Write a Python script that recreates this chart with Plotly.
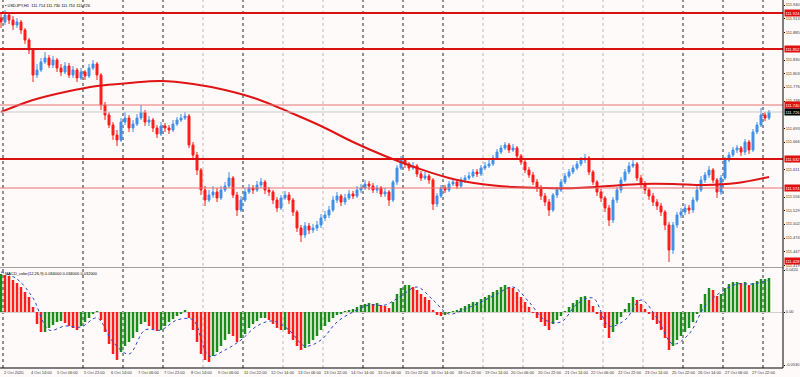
import plotly.graph_objects as go

# ---------------- data ----------------
symbol_title = "USDJPY,H1  111.714 111.730 111.710 111.726"
macd_title = "MACD_color(12,26,9) 0.034000 0.034000 0.032000"

first_open = 111.914
close = [111.906, 111.920, 111.910, 111.900, 111.906, 111.890, 111.870, 111.850, 111.800, 111.810,
         111.826, 111.834, 111.820, 111.830, 111.814, 111.806, 111.818, 111.800, 111.810, 111.794,
         111.806, 111.798, 111.814, 111.822, 111.800, 111.740, 111.720, 111.700, 111.680, 111.670,
         111.706, 111.714, 111.694, 111.702, 111.714, 111.726, 111.706, 111.710, 111.694, 111.682,
         111.698, 111.694, 111.690, 111.702, 111.710, 111.714, 111.718, 111.660, 111.640, 111.610,
         111.570, 111.550, 111.560, 111.566, 111.554, 111.570, 111.578, 111.594, 111.560, 111.530,
         111.550, 111.566, 111.574, 111.570, 111.580, 111.586, 111.570, 111.566, 111.550, 111.534,
         111.554, 111.560, 111.550, 111.526, 111.494, 111.480, 111.498, 111.490, 111.494, 111.500,
         111.514, 111.520, 111.530, 111.550, 111.558, 111.546, 111.554, 111.562, 111.558, 111.570,
         111.574, 111.582, 111.578, 111.570, 111.574, 111.562, 111.566, 111.550, 111.586, 111.614,
         111.630, 111.622, 111.614, 111.618, 111.602, 111.594, 111.598, 111.590, 111.542, 111.558,
         111.574, 111.570, 111.582, 111.586, 111.578, 111.590, 111.594, 111.598, 111.606, 111.602,
         111.614, 111.618, 111.622, 111.634, 111.646, 111.654, 111.660, 111.650, 111.654, 111.638,
         111.626, 111.610, 111.600, 111.586, 111.574, 111.558, 111.546, 111.530, 111.560, 111.570,
         111.586, 111.598, 111.606, 111.614, 111.622, 111.630, 111.634, 111.606, 111.586, 111.566,
         111.554, 111.534, 111.510, 111.550, 111.570, 111.590, 111.606, 111.618, 111.622, 111.594,
         111.582, 111.570, 111.558, 111.546, 111.538, 111.526, 111.500, 111.450, 111.500, 111.520,
         111.526, 111.534, 111.530, 111.550, 111.570, 111.590, 111.600, 111.610, 111.590, 111.566,
         111.594, 111.630, 111.640, 111.650, 111.654, 111.646, 111.666, 111.650, 111.686, 111.700,
         111.720, 111.714, 111.726]
high = [111.926, 111.930, 111.926, 111.918, 111.914, 111.910, 111.894, 111.874, 111.854, 111.822,
        111.834, 111.846, 111.840, 111.838, 111.834, 111.822, 111.826, 111.824, 111.818, 111.814,
        111.814, 111.810, 111.822, 111.830, 111.826, 111.804, 111.746, 111.726, 111.706, 111.690,
        111.714, 111.726, 111.720, 111.710, 111.722, 111.740, 111.730, 111.718, 111.714, 111.700,
        111.706, 111.704, 111.700, 111.710, 111.716, 111.722, 111.726, 111.722, 111.666, 111.646,
        111.614, 111.578, 111.570, 111.578, 111.574, 111.578, 111.586, 111.606, 111.598, 111.566,
        111.558, 111.574, 111.582, 111.580, 111.588, 111.594, 111.590, 111.576, 111.570, 111.556,
        111.560, 111.568, 111.566, 111.554, 111.530, 111.500, 111.506, 111.504, 111.502, 111.508,
        111.522, 111.528, 111.538, 111.558, 111.566, 111.562, 111.562, 111.570, 111.568, 111.578,
        111.582, 111.590, 111.588, 111.584, 111.580, 111.578, 111.574, 111.570, 111.590, 111.620,
        111.638, 111.634, 111.626, 111.626, 111.622, 111.608, 111.606, 111.602, 111.594, 111.564,
        111.580, 111.580, 111.588, 111.594, 111.590, 111.596, 111.600, 111.606, 111.612, 111.612,
        111.620, 111.626, 111.630, 111.640, 111.652, 111.660, 111.666, 111.664, 111.662, 111.658,
        111.642, 111.630, 111.616, 111.606, 111.592, 111.580, 111.564, 111.552, 111.564, 111.576,
        111.592, 111.604, 111.612, 111.620, 111.628, 111.636, 111.642, 111.638, 111.610, 111.590,
        111.572, 111.558, 111.540, 111.556, 111.576, 111.596, 111.612, 111.626, 111.634, 111.626,
        111.600, 111.588, 111.574, 111.564, 111.552, 111.544, 111.530, 111.506, 111.506, 111.526,
        111.534, 111.542, 111.540, 111.556, 111.578, 111.598, 111.606, 111.618, 111.614, 111.594,
        111.600, 111.636, 111.646, 111.656, 111.660, 111.658, 111.672, 111.670, 111.692, 111.706,
        111.734, 111.726, 111.730]
low = [111.894, 111.900, 111.902, 111.890, 111.894, 111.882, 111.862, 111.842, 111.786, 111.794,
       111.806, 111.822, 111.814, 111.814, 111.806, 111.798, 111.802, 111.794, 111.794, 111.786,
       111.790, 111.790, 111.794, 111.810, 111.790, 111.730, 111.710, 111.694, 111.670, 111.658,
       111.666, 111.700, 111.686, 111.686, 111.698, 111.710, 111.698, 111.698, 111.686, 111.674,
       111.678, 111.686, 111.682, 111.686, 111.698, 111.706, 111.710, 111.654, 111.630, 111.600,
       111.560, 111.538, 111.546, 111.554, 111.546, 111.550, 111.566, 111.574, 111.554, 111.518,
       111.526, 111.546, 111.562, 111.562, 111.566, 111.574, 111.562, 111.558, 111.542, 111.526,
       111.530, 111.550, 111.542, 111.518, 111.486, 111.466, 111.474, 111.482, 111.484, 111.488,
       111.494, 111.508, 111.514, 111.526, 111.544, 111.538, 111.540, 111.550, 111.552, 111.554,
       111.564, 111.570, 111.570, 111.564, 111.564, 111.556, 111.556, 111.538, 111.546, 111.580,
       111.610, 111.614, 111.608, 111.610, 111.596, 111.588, 111.590, 111.582, 111.530, 111.536,
       111.554, 111.564, 111.566, 111.578, 111.572, 111.574, 111.584, 111.590, 111.594, 111.596,
       111.598, 111.610, 111.614, 111.618, 111.630, 111.642, 111.650, 111.644, 111.646, 111.632,
       111.620, 111.604, 111.594, 111.580, 111.566, 111.550, 111.538, 111.518, 111.526, 111.554,
       111.566, 111.582, 111.594, 111.602, 111.610, 111.618, 111.624, 111.600, 111.580, 111.558,
       111.546, 111.526, 111.498, 111.504, 111.544, 111.564, 111.586, 111.602, 111.614, 111.588,
       111.574, 111.562, 111.550, 111.538, 111.530, 111.518, 111.490, 111.426, 111.442, 111.494,
       111.514, 111.520, 111.522, 111.524, 111.546, 111.566, 111.584, 111.594, 111.584, 111.554,
       111.560, 111.590, 111.626, 111.636, 111.644, 111.638, 111.640, 111.642, 111.646, 111.682,
       111.696, 111.708, 111.710]

ma_bars = [0, 8, 16, 24, 32, 40, 48, 56, 64, 72, 80, 88, 96, 104, 112, 120, 128, 136, 144,
           152, 160, 168, 176, 184, 192]
ma_vals = [111.726, 111.750, 111.766, 111.778, 111.784, 111.788, 111.782, 111.770, 111.752,
           111.726, 111.698, 111.666, 111.638, 111.614, 111.594, 111.582, 111.576, 111.574,
           111.574, 111.578, 111.582, 111.582, 111.580, 111.584, 111.596]

macd = [0.038, 0.037, 0.036, 0.032, 0.029, 0.025, 0.020, 0.015, 0.005, -0.012,
        -0.020, -0.020, -0.016, -0.013, -0.010, -0.009, -0.011, -0.014, -0.016, -0.018,
        -0.014, -0.010, -0.006, -0.002, 0.001, -0.008, -0.020, -0.032, -0.042, -0.048,
        -0.040, -0.034, -0.030, -0.026, -0.020, -0.012, -0.010, -0.014, -0.017, -0.019,
        -0.018, -0.014, -0.010, -0.007, -0.004, -0.002, 0.002, -0.006, -0.018, -0.030,
        -0.042, -0.048, -0.050, -0.044, -0.040, -0.034, -0.028, -0.022, -0.024, -0.030,
        -0.026, -0.022, -0.016, -0.012, -0.009, -0.006, -0.006, -0.008, -0.012, -0.016,
        -0.018, -0.018, -0.022, -0.028, -0.034, -0.038, -0.036, -0.032, -0.028, -0.024,
        -0.018, -0.014, -0.010, -0.006, -0.003, -0.002, 0.001, 0.002, 0.003, 0.005,
        0.007, 0.008, 0.009, 0.008, 0.009, 0.007, 0.006, 0.004, 0.010, 0.018,
        0.024, 0.027, 0.027, 0.025, 0.022, 0.018, 0.015, 0.012, 0.002, -0.003,
        -0.004, -0.003, -0.001, 0.001, 0.002, 0.004, 0.006, 0.008, 0.010, 0.010,
        0.013, 0.015, 0.017, 0.020, 0.022, 0.025, 0.027, 0.025, 0.024, 0.020,
        0.015, 0.010, 0.005, -0.001, -0.006, -0.010, -0.014, -0.018, -0.012, -0.008,
        -0.004, 0.001, 0.005, 0.009, 0.012, 0.015, 0.016, 0.012, 0.006, -0.002,
        -0.008, -0.016, -0.026, -0.020, -0.012, -0.005, 0.003, 0.009, 0.015, 0.012,
        0.008, 0.003, -0.002, -0.008, -0.012, -0.018, -0.026, -0.038, -0.034, -0.028,
        -0.024, -0.020, -0.016, -0.010, -0.002, 0.008, 0.018, 0.024, 0.022, 0.016,
        0.018, 0.024, 0.028, 0.030, 0.030, 0.029, 0.030, 0.027, 0.029, 0.031,
        0.033, 0.033, 0.034]

signal_bars = list(range(0, 193, 4))
signal_vals = [0.040, 0.033, 0.014, -0.018, -0.014, -0.015, -0.006, -0.030, -0.042, -0.018,
               -0.018, -0.008, -0.008, -0.044, -0.038, -0.028, -0.014, -0.009, -0.018, -0.034,
               -0.028, -0.010, 0.000, 0.007, 0.007, 0.016, 0.025, 0.012, -0.002, 0.003,
               0.010, 0.018, 0.025, 0.010, -0.008, -0.010, 0.008, 0.014, -0.014, -0.008,
               0.012, -0.006, -0.032, -0.022, 0.006, 0.020, 0.028, 0.028, 0.032]

strong_levels = [111.924, 111.852, 111.632]
weak_levels = [111.740, 111.574]
alert_level = 111.428
bid_price = 111.726

price_ticks = [111.940, 111.913, 111.885, 111.830, 111.803, 111.776, 111.748, 111.693,
               111.666, 111.611, 111.556, 111.529, 111.502, 111.474, 111.447, 111.419]
macd_ticks = [0.042, 0.0, -0.053]
macd_tick_text = ["0.0420", "0.00", "-0.0530"]

time_labels = ["2 Oct 2020", "4 Oct 14:00", "5 Oct 06:00", "5 Oct 22:00", "6 Oct 14:00",
               "7 Oct 06:00", "7 Oct 22:00", "8 Oct 14:00", "9 Oct 06:00", "11 Oct 22:00",
               "12 Oct 14:00", "13 Oct 06:00", "13 Oct 22:00", "14 Oct 14:00", "15 Oct 06:00",
               "15 Oct 22:00", "16 Oct 14:00", "18 Oct 22:00", "19 Oct 14:00", "20 Oct 06:00",
               "20 Oct 22:00", "21 Oct 14:00", "22 Oct 06:00", "22 Oct 22:00", "23 Oct 14:00",
               "25 Oct 22:00", "26 Oct 14:00", "27 Oct 06:00", "27 Oct 22:00"]

# ---------------- layout geometry ----------------
PLOT_H = 368.0
MAIN_BOTTOM_PX = 267.0
IND_TOP_PX = 268.0
BAR_PX = 4.0


def px_to_bar(p):
    return p / BAR_PX - 0.25


def py_to_paper(py):
    return 1 - py / PLOT_H


dark_grid_px = [3, 83, 123, 163, 243, 363, 403, 443, 683, 723, 763]
light_grid_px = [203, 283, 323, 483, 523, 563, 603, 643]

n = len(close)
bars = list(range(n))
opens = [first_open] + close[:-1]

BG = "#fffafa"
BLUE = "#4090e6"
RED = "#ff1c1c"
GREEN = "#1c8c1c"
FONT = "Liberation Sans"
TICK_SIZE = 4

fig = go.Figure()
fig.add_trace(go.Candlestick(
    x=bars, open=opens, high=high, low=low, close=close,
    increasing=dict(line=dict(color=BLUE, width=1), fillcolor=BLUE),
    decreasing=dict(line=dict(color=RED, width=1), fillcolor=RED),
    whiskerwidth=0, xaxis="x", yaxis="y", showlegend=False, hoverinfo="skip"))
fig.add_trace(go.Scatter(
    x=ma_bars, y=ma_vals, mode="lines",
    line=dict(color="#e01414", width=2, shape="spline"),
    xaxis="x", yaxis="y", showlegend=False, hoverinfo="skip"))

hist_colors = [GREEN if i == 0 or macd[i] >= macd[i - 1] else RED for i in range(n)]
fig.add_trace(go.Bar(
    x=bars, y=macd, width=0.62, marker=dict(color=hist_colors, line=dict(width=0)),
    xaxis="x", yaxis="y2", showlegend=False, hoverinfo="skip"))
fig.add_trace(go.Scatter(
    x=signal_bars, y=signal_vals, mode="lines",
    line=dict(color="#2a44c8", width=1, dash="dot", shape="spline"),
    xaxis="x", yaxis="y2", showlegend=False, hoverinfo="skip"))

shapes = []
for p in dark_grid_px:
    shapes.append(dict(type="line", xref="x", yref="paper", x0=px_to_bar(p), x1=px_to_bar(p),
                       y0=0, y1=1, line=dict(color="#222222", width=1, dash="dot"), layer="below"))
for p in light_grid_px:
    shapes.append(dict(type="line", xref="x", yref="paper", x0=px_to_bar(p), x1=px_to_bar(p),
                       y0=0, y1=1, line=dict(color="#b8b8b8", width=1, dash="dot"), layer="below"))
for lv in strong_levels:
    shapes.append(dict(type="line", xref="paper", yref="y", x0=0, x1=1, y0=lv, y1=lv,
                       line=dict(color="#d81010", width=2)))
for lv in weak_levels:
    shapes.append(dict(type="line", xref="paper", yref="y", x0=0, x1=1, y0=lv, y1=lv,
                       line=dict(color="#e87070", width=1)))
shapes.append(dict(type="line", xref="paper", yref="y", x0=0, x1=1, y0=bid_price, y1=bid_price,
                   line=dict(color="#c8c8c8", width=1)))
sep_y = py_to_paper((MAIN_BOTTOM_PX + IND_TOP_PX) / 2)
shapes.append(dict(type="line", xref="paper", yref="paper", x0=0, x1=1, y0=sep_y, y1=sep_y,
                   line=dict(color="#a0a0a0", width=1)))
shapes.append(dict(type="line", xref="paper", yref="paper", x0=0, x1=1, y0=0, y1=0,
                   line=dict(color="#000000", width=1)))
shapes.append(dict(type="line", xref="paper", yref="paper", x0=1, x1=1, y0=0, y1=1,
                   line=dict(color="#000000", width=1)))

annotations = []
annotations.append(dict(x=0.004, y=py_to_paper(1), xref="paper", yref="paper",
                        xanchor="left", yanchor="top", showarrow=False,
                        text="▪ " + symbol_title, font=dict(family=FONT, size=4, color="#000")))
annotations.append(dict(x=0.004, y=py_to_paper(IND_TOP_PX + 1), xref="paper", yref="paper",
                        xanchor="left", yanchor="top", showarrow=False,
                        text=macd_title, font=dict(family=FONT, size=4, color="#000")))
for lv in strong_levels + weak_levels + [alert_level]:
    annotations.append(dict(x=1, y=lv, xref="paper", yref="y", xanchor="left", yanchor="middle",
                            xshift=0.5, showarrow=False, text=f"{lv:.3f}", bgcolor="#e01010",
                            borderpad=0.5, font=dict(family=FONT, size=TICK_SIZE, color="#ffffff")))
annotations.append(dict(x=1, y=bid_price, xref="paper", yref="y", xanchor="left", yanchor="middle",
                        xshift=0.5, showarrow=False, text=f"{bid_price:.3f}", bgcolor="#000000",
                        borderpad=0.5, font=dict(family=FONT, size=TICK_SIZE, color="#ffffff")))
for k, lab in enumerate(time_labels):
    annotations.append(dict(x=px_to_bar(2 + 26.7 * k), y=-4.5 / PLOT_H, xref="x", yref="paper",
                            xanchor="left", yanchor="middle", showarrow=False, text=lab,
                            font=dict(family=FONT, size=4, color="#333")))

fig.update_layout(
    width=800, height=377,
    margin=dict(l=0, r=17, t=0, b=9, pad=0),
    paper_bgcolor=BG, plot_bgcolor=BG,
    showlegend=False, bargap=0.3,
    xaxis=dict(range=[-0.25, px_to_bar(783)], showgrid=False, zeroline=False,
               showticklabels=False, ticks="", rangeslider=dict(visible=False), fixedrange=True),
    yaxis=dict(domain=[py_to_paper(MAIN_BOTTOM_PX), 1], range=[111.416, 111.950], side="right",
               tickvals=price_ticks, ticktext=[f"{v:.3f}" for v in price_ticks],
               ticks="outside", ticklen=1, tickcolor="#000",
               tickfont=dict(family=FONT, size=TICK_SIZE, color="#333"),
               showgrid=False, zeroline=False, automargin=False),
    yaxis2=dict(domain=[0, py_to_paper(IND_TOP_PX)], range=[-0.056, 0.044], side="right",
                tickvals=macd_ticks, ticktext=macd_tick_text,
                ticks="outside", ticklen=1, tickcolor="#000",
                tickfont=dict(family=FONT, size=TICK_SIZE, color="#333"),
                showgrid=False, zeroline=True, zerolinecolor="#d0d0d0", zerolinewidth=1,
                automargin=False),
    shapes=shapes, annotations=annotations,
)

fig.write_html(
    "out.html",
    config={"displayModeBar": False},
    post_script="document.body.style.margin='0';document.body.style.padding='0';"
                "document.body.style.background='" + BG + "';",
)
